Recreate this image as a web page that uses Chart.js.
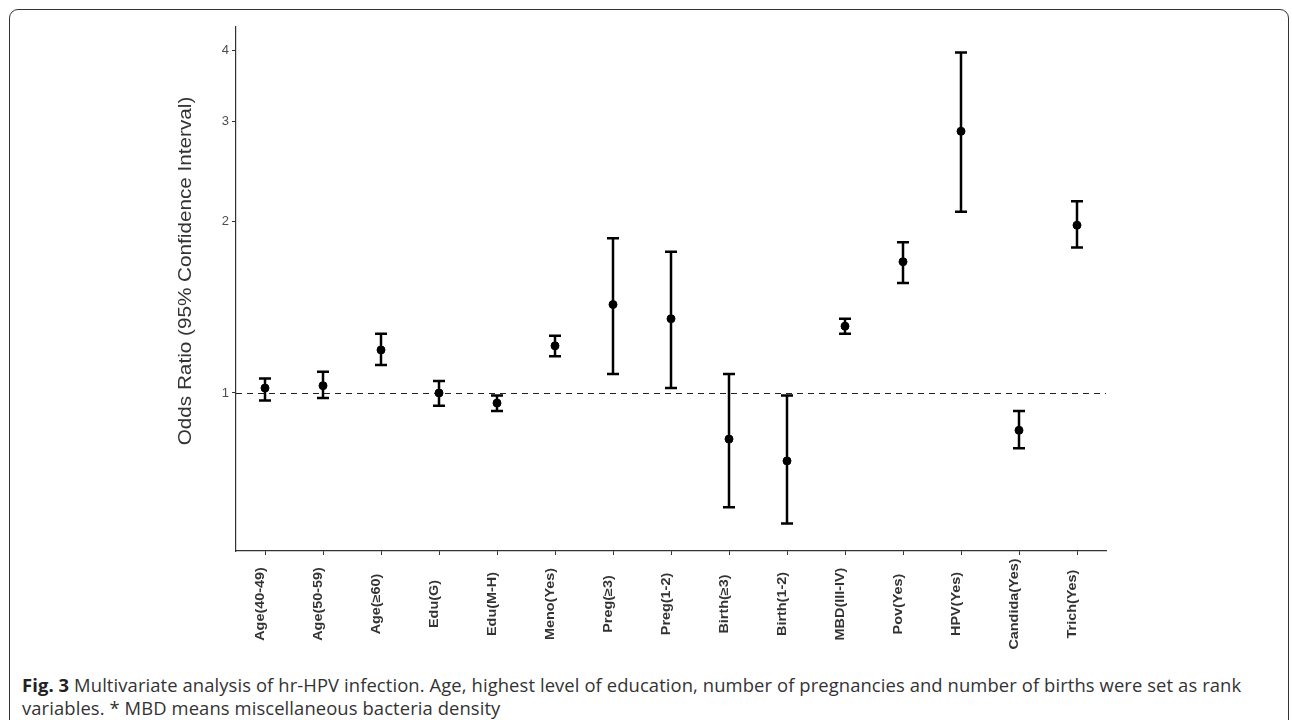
<!DOCTYPE html>
<html>
<head>
<meta charset="utf-8">
<script src="https://cdn.jsdelivr.net/npm/chart.js@4"></script>
<style>
  body { margin: 0; background: #fff; width: 1292px; height: 720px; overflow: hidden; position: relative; }
  #frame { position: absolute; left: 9px; top: 9px; width: 1280px; height: 760px; border: 1.5px solid #333; border-radius: 9px; box-sizing: border-box; }
  #wrap { position: absolute; left: 0; top: 0; width: 1292px; height: 660px; }
  #caption { position: absolute; left: 22px; top: 673px; font-family: "Open Sans", sans-serif; font-size: 18.4px; line-height: 23px; color: #333; white-space: nowrap; letter-spacing: 0.1px; }
  #caption b { color: #222; }
</style>
</head>
<body>
<div id="frame"></div>
<div id="wrap"><canvas id="orChart"></canvas></div>
<div id="caption"><b>Fig. 3</b> Multivariate analysis of hr-HPV infection. Age, highest level of education, number of pregnancies and number of births were set as rank<br>variables. * MBD means miscellaneous bacteria density</div>
<script>
// Variables on the x axis
const labels = ['Age(40-49)', 'Age(50-59)', 'Age(≥60)', 'Edu(G)', 'Edu(M-H)', 'Meno(Yes)', 'Preg(≥3)', 'Preg(1-2)',
    'Birth(≥3)', 'Birth(1-2)', 'MBD(III-IV)', 'Pov(Yes)', 'HPV(Yes)', 'Candida(Yes)', 'Trich(Yes)'];

// Odds ratios and 95% CI
const oddsRatio = [1.02, 1.03, 1.19, 1.00, 0.96, 1.21, 1.43, 1.35, 0.83, 0.76, 1.31, 1.70, 2.88, 0.86, 1.97];
const ciLower   = [0.97, 0.98, 1.12, 0.95, 0.93, 1.16, 1.08, 1.02, 0.63, 0.59, 1.27, 1.56, 2.08, 0.80, 1.80];
const ciUpper   = [1.06, 1.09, 1.27, 1.05, 0.99, 1.26, 1.87, 1.77, 1.08, 0.99, 1.35, 1.84, 3.96, 0.93, 2.17];

// y axis tick labels
const yTicks = [1, 2, 3, 4];
const yTitle = 'Odds Ratio (95% Confidence Interval)';

// Draw the reference line, the error bars, the rotated category labels and the y title
const errorBars = {
    id: 'errorBars',
    beforeDatasetsDraw(chart) {
        const { ctx, chartArea, scales: { x, y } } = chart;
        ctx.save();
        const y1 = Math.round(y.getPixelForValue(1)) + 0.5;
        ctx.strokeStyle = '#222';
        ctx.lineWidth = 1;
        ctx.setLineDash([6, 5]);
        ctx.beginPath();
        ctx.moveTo(chartArea.left, y1);
        ctx.lineTo(chartArea.right, y1);
        ctx.stroke();
        ctx.setLineDash([]);

        ctx.strokeStyle = '#000';
        ctx.lineWidth = 2.5;
        labels.forEach((lab, i) => {
            const px = x.getPixelForValue(i);
            const top = y.getPixelForValue(ciUpper[i]);
            const bot = y.getPixelForValue(ciLower[i]);
            ctx.beginPath();
            ctx.moveTo(px, top); ctx.lineTo(px, bot);
            ctx.moveTo(px - 6, top); ctx.lineTo(px + 6, top);
            ctx.moveTo(px - 6, bot); ctx.lineTo(px + 6, bot);
            ctx.stroke();
        });
        ctx.restore();
    },
    afterDraw(chart) {
        const { ctx, scales: { x } } = chart;
        ctx.save();
        ctx.fillStyle = '#333';
        ctx.font = 'bold 12px Arial, "Liberation Sans", sans-serif';
        ctx.textAlign = 'center';
        ctx.textBaseline = 'alphabetic';
        labels.forEach((lab, i) => {
            const px = x.getPixelForValue(i);
            ctx.save();
            ctx.translate(px, 604);
            ctx.rotate(-Math.PI / 2);
            ctx.scale(1.2, 1);
            ctx.fillText(lab, 0, -1);
            ctx.restore();
        });

        // axis title, stretched along its length like the source figure
        ctx.fillStyle = '#333';
        ctx.font = '18px Arial, "Liberation Sans", sans-serif';
        ctx.textBaseline = 'middle';
        ctx.translate(186, 271);
        ctx.rotate(-Math.PI / 2);
        ctx.scale(1.15, 1);
        ctx.fillText(yTitle, 0, 0);
        ctx.restore();
    }
};

new Chart(document.getElementById('orChart'), {
    type: 'line',
    data: {
        labels: labels,
        datasets: [{
            data: oddsRatio,
            showLine: false,
            pointRadius: 4,
            pointBackgroundColor: '#000',
            pointBorderColor: '#000',
            pointBorderWidth: 1
        }]
    },
    options: {
        responsive: true,
        maintainAspectRatio: false,
        animation: false,
        devicePixelRatio: 1,
        layout: { padding: { top: 27, right: 186, bottom: 0, left: 0 } },
        plugins: { legend: { display: false }, tooltip: { enabled: false } },
        scales: {
            x: {
                type: 'category',
                offset: true,
                grid: { drawOnChartArea: false, tickLength: 4, color: '#333' },
                border: { display: true, color: '#333', width: 1.2 },
                ticks: { display: false },
                afterFit: s => { s.height = 109; }
            },
            y: {
                type: 'logarithmic',
                bounds: 'data',
                min: 0.528,
                max: 4.39,
                afterBuildTicks: s => { s.ticks = yTicks.map(v => ({ value: v })); },
                grid: { drawOnChartArea: false, tickLength: 4, color: '#333' },
                border: { display: true, color: '#333', width: 1.2 },
                ticks: {
                    color: '#4d4d4d',
                    padding: 3,
                    font: { family: 'Arial, "Liberation Sans", sans-serif', size: 13 },
                    callback: v => String(v)
                },
                title: { display: false },
                afterFit: s => { s.width = 236; }
            }
        }
    },
    plugins: [errorBars]
});
</script>
</body>
</html>
